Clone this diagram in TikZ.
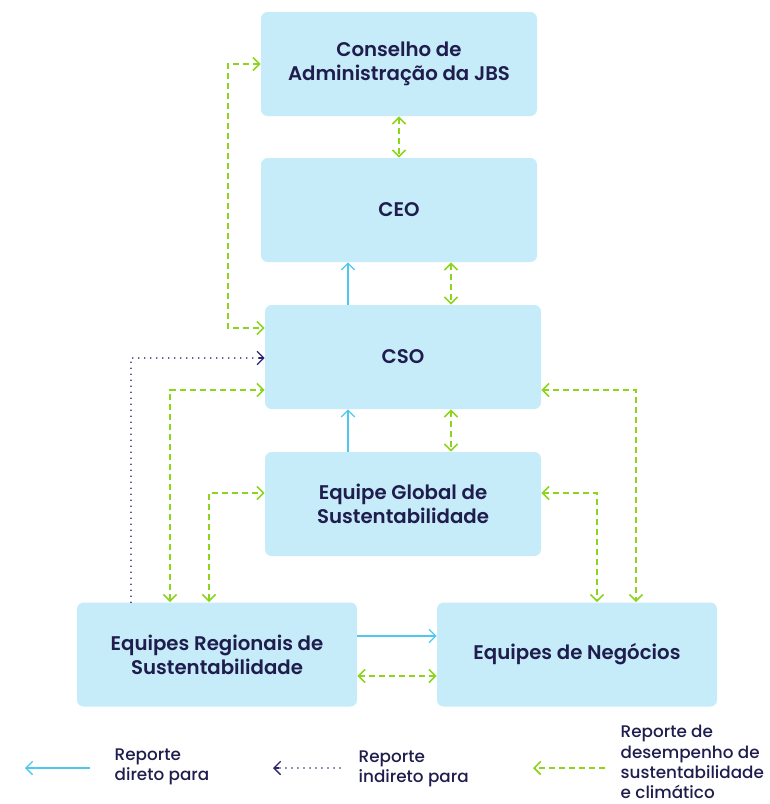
\documentclass[tikz,border=0pt]{standalone}
\usepackage{fontspec}
\setmainfont{Poppins}
\newfontfamily\medfont{Poppins}[UprightFont=* Medium]
\newfontfamily\semifont{Poppins}[UprightFont=* SemiBold]
\usetikzlibrary{calc,arrows.meta}

\definecolor{boxblue}{HTML}{C6EBF9}
\definecolor{navytext}{HTML}{1F1D4D}
\definecolor{dirblue}{HTML}{4FC8F0}
\definecolor{grnline}{HTML}{8DD41E}
\definecolor{indnavy}{HTML}{2A2672}

\tikzset{
  box/.style={fill=boxblue, rounded corners=5pt, minimum width=207pt,
    minimum height=78pt, align=center, text=navytext,
    font=\fontsize{14.8}{18}\selectfont\semifont},
  widebox/.style={box, minimum width=210pt},
  legtext/.style={anchor=west, align=left, text=navytext,
    font=\fontsize{12.6}{15.2}\selectfont\medfont},
  dirline/.style={draw=dirblue, line width=1pt},
  grnline/.style={draw=grnline, line width=1.2pt, dash pattern=on 4.5pt off 3pt},
  indline/.style={draw=indnavy, line width=1.3pt, line cap=round,
    dash pattern=on 0pt off 4.5pt},
  >={Straight Barb[length=5pt,width=10pt]}
}

\begin{document}
\begin{tikzpicture}[x=0.75pt,y=-0.75pt]
   \useasboundingbox (0,0) rectangle (769,804);

   \path (399,64) node[box] (cons) {Conselho de\\Administração da JBS};
   \path (399,210) node[box] (ceo) {CEO};
   \path (403,357) node[box] (cso) {CSO};
   \path (403,504) node[box] (glob) {Equipe Global de\\Sustentabilidade};
   \path (217,654.5) node[widebox] (reg) {Equipes Regionais de\\Sustentabilidade};
   \path (577,654.5) node[widebox] (neg) {Equipes de Negócios};

   % vertical links
   \draw[grnline,<->] (cons.south) -- (ceo.north);
   \draw[dirline,->] ($(cso.north)+(-55,0)$) coordinate (a1) -- (a1 |- ceo.south);
   \draw[grnline,<->] ($(ceo.south)+(52,0)$) coordinate (a2) -- (a2 |- cso.north);
   \draw[dirline,->] ($(glob.north)+(-55,0)$) coordinate (a3) -- (a3 |- cso.south);
   \draw[grnline,<->] ($(cso.south)+(48,0)$) coordinate (a4) -- (a4 |- glob.north);

   % left side
   \draw[grnline,<->] (cons.west) -- ++(-33,0) |- ($(cso.west)+(0,-29)$);
   \draw[indline] ($(reg.north)+(-86,0)$) |- ($(cso.west)+(-3,1)$);
   \draw[indnavy,line width=1pt,->] ($(cso.west)+(-6,1)$) -- ($(cso.west)+(0,1)$);
   \draw[grnline,<->] ($(reg.north)+(-47,0)$) |- ($(cso.west)+(0,33)$);
   \draw[grnline,<->] ($(reg.north)+(-8,0)$) |- ($(glob.west)+(0,-11)$);

   % right side
   \draw[grnline,<->] ($(glob.east)+(0,-11)$) -| ($(neg.north)+(20,0)$);
   \draw[grnline,<->] ($(cso.east)+(0,33)$) -| ($(neg.north)+(59,0)$);

   % bottom row
   \draw[dirline,->] ($(reg.east)+(0,-18.5)$) coordinate (a5) -- (a5 -| neg.west);
   \draw[grnline,<->] ($(reg.east)+(0,21.5)$) coordinate (a6) -- (a6 -| neg.west);

   % legend
   \path (110,767) node[legtext] (lg1) {Reporte\\direto para};
   \path (354,769) node[legtext] (lg2) {Reporte\\indireto para};
   \path (616,762) node[legtext] (lg3) {Reporte de\\desempenho de\\sustentabilidade\\e climático};
   \coordinate (l1a) at (90,768);
   \coordinate (l1b) at (25,768);
   \draw[dirline,->] (l1a) -- (l1b);
   \coordinate (l2a) at (340,768);
   \coordinate (l2b) at (273,768);
   \draw[indline] (l2a) -- ($(l2b)+(3,0)$);
   \draw[indnavy,line width=1pt,->] ($(l2b)+(6,0)$) -- (l2b);
   \coordinate (l3a) at (605,768);
   \coordinate (l3b) at (533,768);
   \draw[grnline,->] (l3a) -- (l3b);
\end{tikzpicture}
\end{document}
